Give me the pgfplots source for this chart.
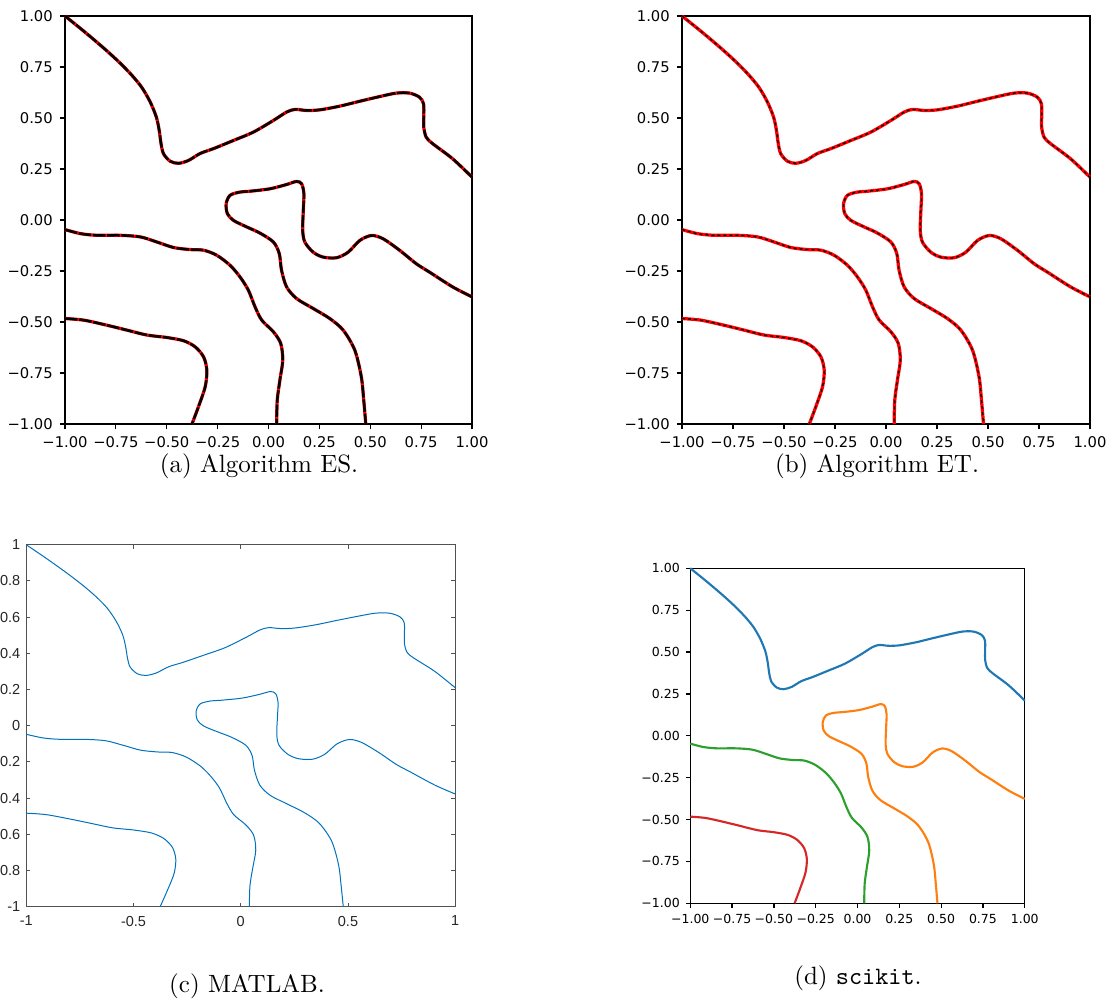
\documentclass[border=0pt]{standalone}
\usepackage{pgfplots}
\usepackage{pgfplotstable}
\usepackage{fontspec}
\pgfplotsset{compat=1.18}
\newfontfamily\dejavu{DejaVu Sans}
\newfontfamily\libsans{Liberation Sans}
\definecolor{tabblue}{HTML}{1F77B4}
\definecolor{taborange}{HTML}{FF7F0E}
\definecolor{tabgreen}{HTML}{2CA02C}
\definecolor{tabred}{HTML}{D62728}
\definecolor{matblue}{HTML}{0072BD}
\definecolor{matgray}{HTML}{262626}

\pgfplotstableread{
x y
-1 1
-0.924 0.939
-0.859 0.885
-0.793 0.828
-0.728 0.768
-0.671 0.709
-0.622 0.649
-0.581 0.578
-0.551 0.504
-0.537 0.439
-0.528 0.374
-0.516 0.325
-0.483 0.288
-0.442 0.278
-0.393 0.292
-0.336 0.326
-0.270 0.350
-0.172 0.390
-0.074 0.431
0.024 0.488
0.089 0.529
0.130 0.542
0.187 0.537
0.252 0.540
0.350 0.558
0.448 0.582
0.546 0.605
0.628 0.622
0.693 0.622
0.742 0.602
0.762 0.569
0.763 0.504
0.763 0.455
0.775 0.406
0.807 0.374
0.905 0.300
1 0.210
}\curveA
\pgfplotstableread{
x y
1 -0.377
0.905 -0.328
0.792 -0.256
0.727 -0.215
0.645 -0.149
0.563 -0.092
0.506 -0.076
0.449 -0.100
0.391 -0.158
0.334 -0.185
0.269 -0.182
0.220 -0.158
0.179 -0.109
0.168 -0.051
0.171 0.047
0.174 0.128
0.163 0.177
0.138 0.189
0.089 0.174
0.007 0.153
-0.091 0.141
-0.140 0.137
-0.189 0.121
-0.208 0.080
-0.202 0.031
-0.172 -0.002
-0.107 -0.034
-0.042 -0.064
0.024 -0.108
0.053 -0.165
0.064 -0.246
0.089 -0.328
0.138 -0.385
0.220 -0.434
0.301 -0.483
0.367 -0.540
0.424 -0.638
0.456 -0.768
0.468 -0.883
0.478 -1.0
}\curveB
\pgfplotstableread{
x y
-1 -0.047
-0.923 -0.067
-0.842 -0.075
-0.727 -0.075
-0.629 -0.083
-0.548 -0.108
-0.466 -0.135
-0.384 -0.145
-0.319 -0.148
-0.254 -0.173
-0.189 -0.222
-0.140 -0.279
-0.099 -0.344
-0.066 -0.426
-0.033 -0.491
0.024 -0.548
0.060 -0.605
0.070 -0.687
0.056 -0.785
0.043 -0.883
0.040 -1.0
}\curveC
\pgfplotstableread{
x y
-1 -0.483
-0.907 -0.491
-0.793 -0.516
-0.695 -0.540
-0.597 -0.564
-0.499 -0.576
-0.417 -0.592
-0.360 -0.622
-0.319 -0.671
-0.303 -0.736
-0.311 -0.817
-0.344 -0.915
-0.376 -1.0
}\curveD

\pgfplotsset{
  mpl/.style={
    scale only axis,
    xmin=-1, xmax=1, ymin=-1, ymax=1,
    axis line style={line width=0.5pt, black},
    tick align=outside,
    xtick pos=left, ytick pos=left,
    major tick length=2.1pt,
    tick style={line width=0.5pt, black},
    xtick={-1,-0.75,-0.5,-0.25,0,0.25,0.5,0.75,1},
    ytick={-1,-0.75,-0.5,-0.25,0,0.25,0.5,0.75,1},
    xticklabels={−1.00,−0.75,−0.50,−0.25,0.00,0.25,0.50,0.75,1.00},
    yticklabels={−1.00,−0.75,−0.50,−0.25,0.00,0.25,0.50,0.75,1.00},
    /pgf/number format/assume math mode=true,
    clip=false,
  },
  redl/.style={red, line width=1.3pt, smooth, tension=0.5},
  blkA/.style={black, line width=1.0pt, smooth, tension=0.5, dash pattern=on 5pt off 0.7pt},
  blkB/.style={black, line width=0.5pt, smooth, tension=0.5, dash pattern=on 1.2pt off 1.2pt},
}
\newcommand\pairA[1]{\addplot[redl] table {#1};\addplot[blkA] table {#1};}
\newcommand\pairB[1]{\addplot[redl] table {#1};\addplot[blkB] table {#1};}

\begin{document}
\begin{tikzpicture}
\path[use as bounding box] (0,0) rectangle (446.8pt,-401.2pt);

% (a)
\begin{axis}[mpl, at={(26pt,-169.6pt)}, anchor=south west,
  width=162.8pt, height=163.2pt,
  ticklabel style={font=\dejavu\fontsize{5.9}{7}\selectfont},
  yticklabel style={inner sep=0pt, xshift=-2.6pt},
  xticklabel style={inner sep=0pt, yshift=-2.6pt}]
\pairA{\curveA}
\pairA{\curveB}
\pairA{\curveC}
\pairA{\curveD}
\end{axis}
\node at (103.6pt,-186.5pt) {(a) Algorithm ES.};

% (b)
\begin{axis}[mpl, at={(272.8pt,-169.6pt)}, anchor=south west,
  width=163.2pt, height=163.2pt,
  ticklabel style={font=\dejavu\fontsize{5.9}{7}\selectfont},
  yticklabel style={inner sep=0pt, xshift=-2.6pt},
  xticklabel style={inner sep=0pt, yshift=-2.6pt}]
\pairB{\curveA}
\pairB{\curveB}
\pairB{\curveC}
\pairB{\curveD}
\end{axis}
\node at (350.8pt,-186.5pt) {(b) Algorithm ET.};

% (c)
\begin{axis}[scale only axis, at={(10.5pt,-362.7pt)}, anchor=south west,
  width=171.6pt, height=144.8pt,
  xmin=-1, xmax=1, ymin=-1, ymax=1,
  axis line style={line width=0.4pt, matgray!80},
  tick style={line width=0.4pt, matgray!80},
  tick align=inside, major tick length=1.6pt,
  xtick={-1,-0.5,0,0.5,1}, ytick={-1,-0.8,-0.6,-0.4,-0.2,0,0.2,0.4,0.6,0.8,1},
  xticklabels={-1,-0.5,0,0.5,1},
  yticklabels={-1,-0.8,-0.6,-0.4,-0.2,0,0.2,0.4,0.6,0.8,1},
  ticklabel style={font=\libsans\fontsize{5.8}{7}\selectfont, text=matgray},
  yticklabel style={inner sep=0pt, xshift=-2.2pt},
  xticklabel style={inner sep=0pt, yshift=-3.5pt},
  /pgf/number format/assume math mode=true, clip=false]
\addplot[matblue, line width=0.4pt, smooth, tension=0.5] table {\curveA};
\addplot[matblue, line width=0.4pt, smooth, tension=0.5] table {\curveB};
\addplot[matblue, line width=0.4pt, smooth, tension=0.5] table {\curveC};
\addplot[matblue, line width=0.4pt, smooth, tension=0.5] table {\curveD};
\end{axis}
\node at (98.8pt,-394.5pt) {(c) MATLAB.};

% (d)
\begin{axis}[mpl, at={(276.1pt,-361.3pt)}, anchor=south west,
  width=133.8pt, height=134pt,
  major tick length=1.8pt,
  ticklabel style={font=\dejavu\fontsize{5.0}{6}\selectfont},
  yticklabel style={inner sep=0pt, xshift=-2.2pt},
  xticklabel style={inner sep=0pt, yshift=-2.2pt}]
\addplot[tabblue, line width=0.85pt, smooth, tension=0.5] table {\curveA};
\addplot[taborange, line width=0.85pt, smooth, tension=0.5] table {\curveB};
\addplot[tabgreen, line width=0.85pt, smooth, tension=0.5] table {\curveC};
\addplot[tabred, line width=0.85pt, smooth, tension=0.5] table {\curveD};
\end{axis}
\node at (343.2pt,-391.2pt) {(d) \texttt{scikit}.};
\end{tikzpicture}
\end{document}
